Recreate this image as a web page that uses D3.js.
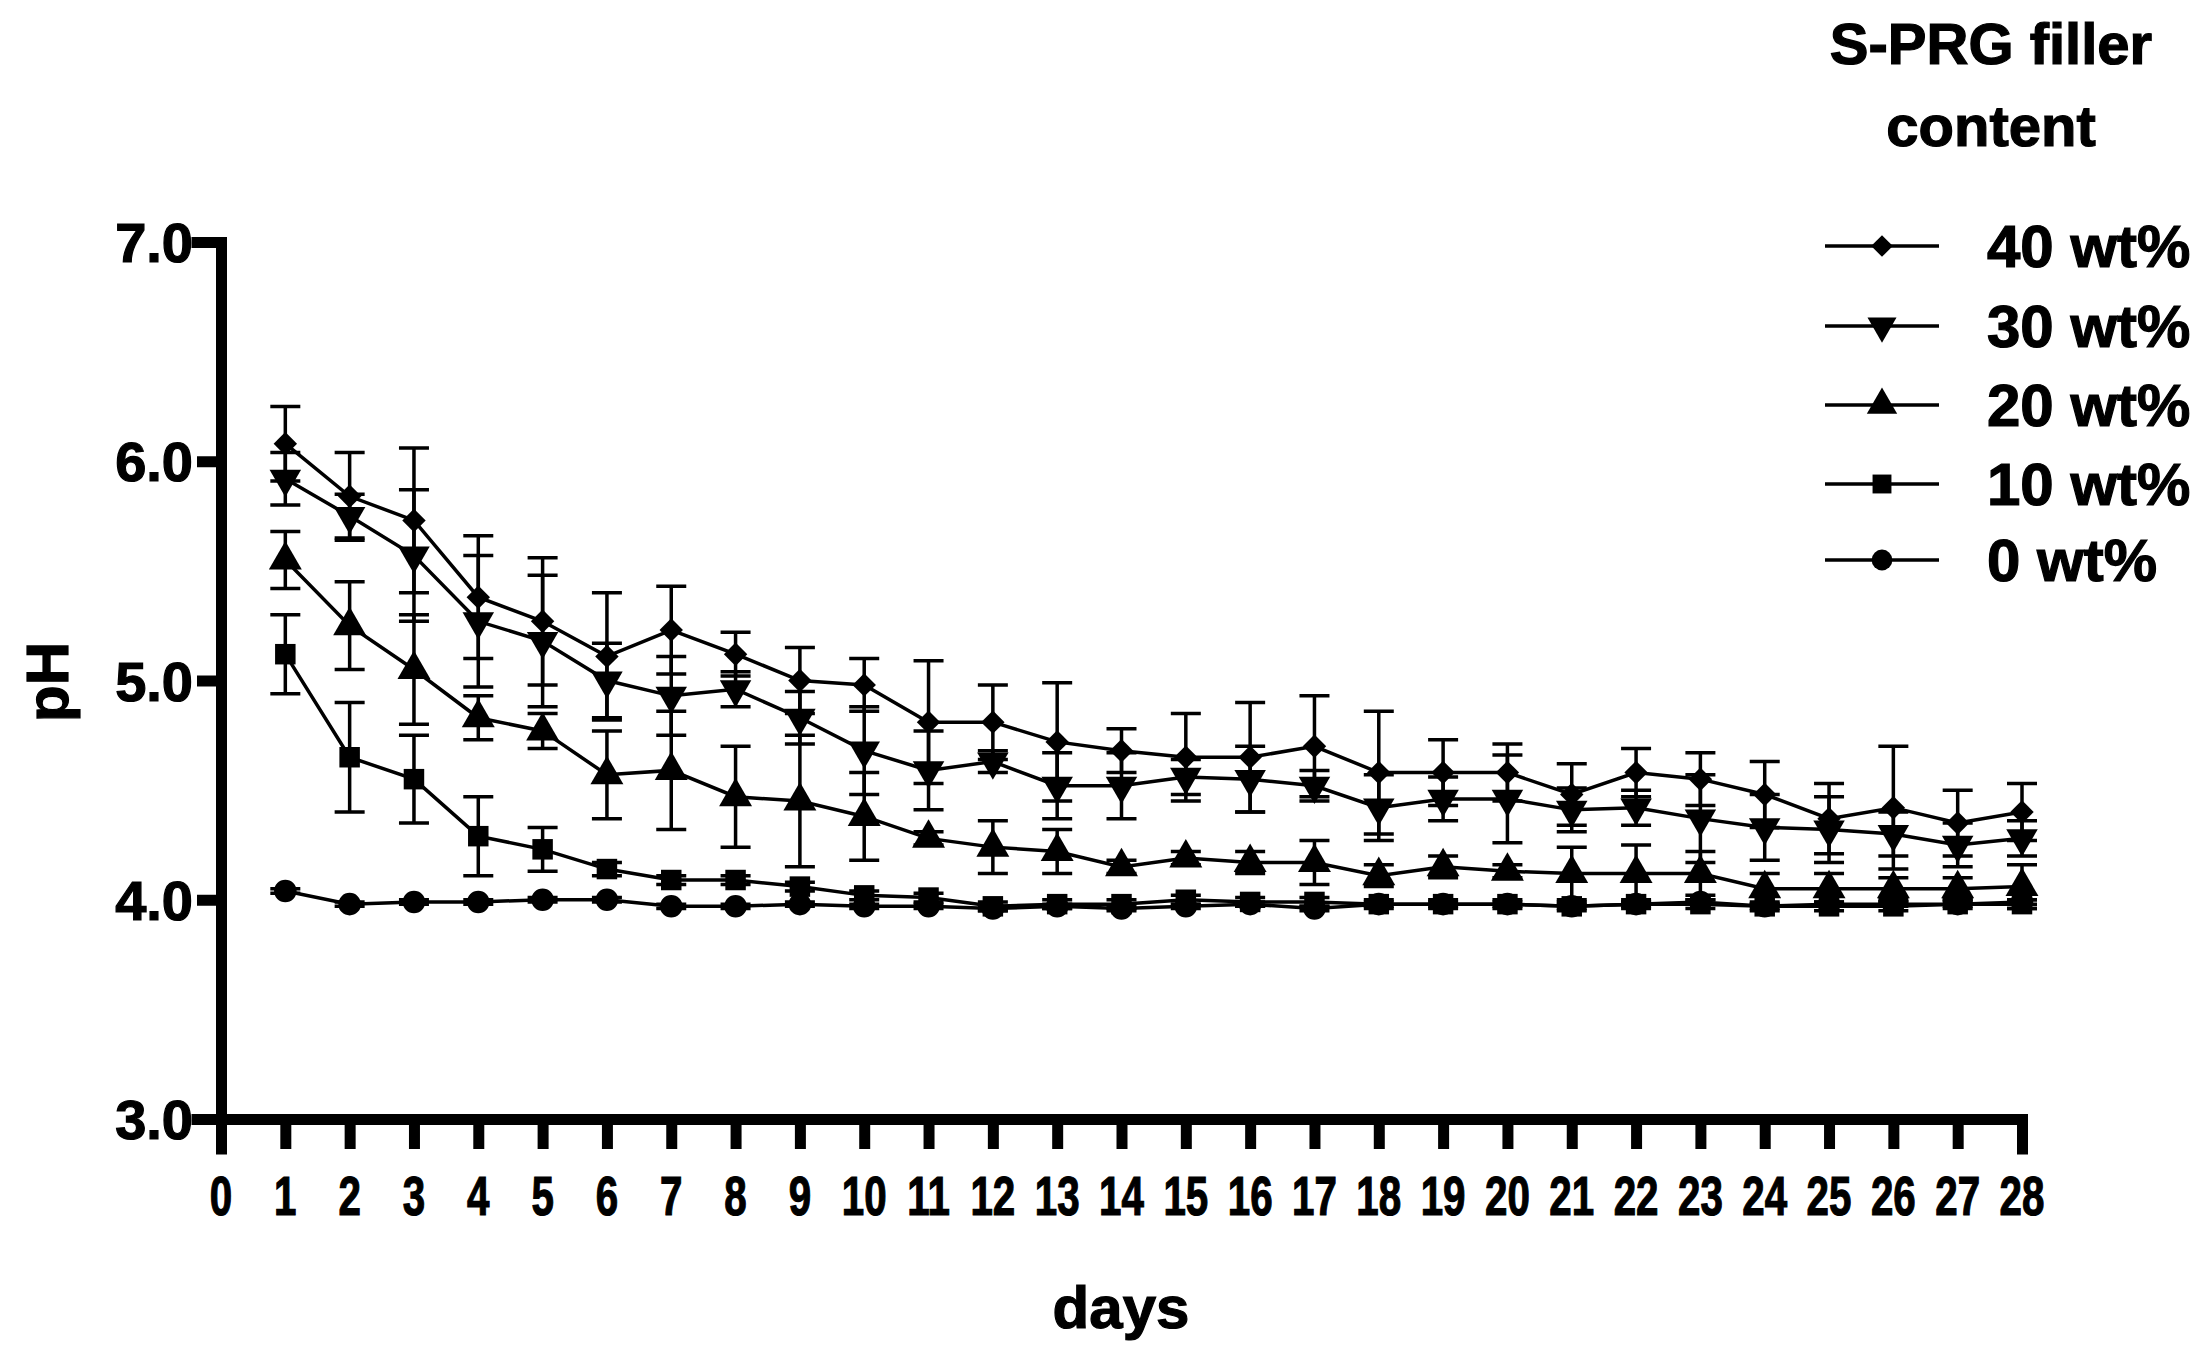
<!DOCTYPE html>
<html><head><meta charset="utf-8">
<script src="https://cdn.jsdelivr.net/npm/d3@7"></script>
<style>body{margin:0;background:#fff}text{font-family:"Liberation Sans",Arial,sans-serif;font-weight:bold;fill:#000;stroke:#000;stroke-width:1.2px}</style>
</head><body><svg id="c" width="2201" height="1345"></svg>
<script>
var days = d3.range(1, 29);
var seriesNames = ["40 wt%", "30 wt%", "20 wt%", "10 wt%", "0 wt%"];
var symbols = [d3.symbolSquare, d3.symbolTriangle, d3.symbolTriangle, d3.symbolSquare, d3.symbolCircle];
var ph40 = [6.08,5.84,5.73,5.38,5.27,5.11,5.23,5.12,5.0,4.98,4.81,4.81,4.72,4.68,4.65,4.65,4.70,4.58,4.58,4.58,4.48,4.58,4.55,4.48,4.37,4.42,4.35,4.40];
var err40 = [0.17,0.2,0.33,0.28,0.29,0.29,0.2,0.1,0.15,0.12,0.28,0.17,0.27,0.1,0.2,0.25,0.23,0.28,0.15,0.13,0.14,0.11,0.12,0.15,0.16,0.28,0.15,0.13];
var ph30 = [5.92,5.75,5.57,5.27,5.18,5.0,4.93,4.96,4.83,4.68,4.59,4.63,4.52,4.52,4.56,4.55,4.52,4.42,4.46,4.46,4.41,4.42,4.37,4.33,4.32,4.3,4.25,4.28];
var err30 = [0.12,0.1,0.3,0.3,0.3,0.17,0.18,0.08,0.12,0.2,0.18,0.05,0.15,0.15,0.08,0.15,0.07,0.15,0.1,0.2,0.1,0.08,0.2,0.15,0.15,0.1,0.1,0.08];
var ph20 = [5.55,5.25,5.05,4.83,4.77,4.57,4.59,4.47,4.45,4.38,4.28,4.24,4.22,4.15,4.19,4.17,4.17,4.11,4.15,4.13,4.12,4.12,4.12,4.05,4.05,4.05,4.05,4.06];
var err20 = [0.13,0.2,0.25,0.1,0.08,0.2,0.27,0.23,0.3,0.2,0.03,0.12,0.1,0.03,0.03,0.05,0.1,0.05,0.05,0.03,0.12,0.13,0.1,0.07,0.07,0.05,0.05,0.1];
var ph10 = [5.12,4.65,4.55,4.29,4.23,4.14,4.09,4.09,4.06,4.02,4.01,3.97,3.98,3.98,4.0,3.99,3.99,3.98,3.98,3.98,3.97,3.98,3.98,3.97,3.97,3.97,3.98,3.98];
var err10 = [0.18,0.25,0.2,0.18,0.1,0.03,0.02,0.02,0.02,0.02,0.02,0.02,0.02,0.02,0.02,0.02,0.02,0.02,0.02,0.02,0.02,0.02,0.02,0.02,0.02,0.02,0.02,0.02];
var ph0 = [4.04,3.98,3.99,3.99,4.0,4.0,3.97,3.97,3.98,3.97,3.97,3.96,3.97,3.96,3.97,3.98,3.96,3.98,3.98,3.98,3.97,3.98,3.99,3.97,3.98,3.98,3.98,3.99];
var err0 = [0.01,0.01,0.01,0.01,0.01,0.01,0.01,0.01,0.01,0.01,0.01,0.01,0.01,0.01,0.01,0.01,0.01,0.01,0.01,0.01,0.01,0.01,0.01,0.01,0.01,0.01,0.01,0.01];
var values = [ph40, ph30, ph20, ph10, ph0];
var errors = [err40, err30, err20, err10, err0];
var yTicks = [3, 4, 5, 6, 7];

var svg = d3.select("#c");
var x = d3.scaleLinear().domain([0, 28]).range([221, 2022]);
var y = d3.scaleLinear().domain([3, 7]).range([1119, 242]);

function markerTransform(s, cx, cy) {
    var t = "translate(" + cx + "," + cy + ")";
    if (s === 0) t += " rotate(45) scale(0.85)";
    if (s === 1) t += " rotate(180)";
    return t;
}
var symSize = [380, 430, 470, 420, 400];

// axes
var xa = svg.append("g").attr("transform", "translate(0,1119)")
    .call(d3.axisBottom(x).tickValues(d3.range(0, 29)).tickSize(30).tickFormat(""));
var ya = svg.append("g").attr("transform", "translate(221,0)")
    .call(d3.axisLeft(y).tickValues(yTicks).tickSize(24).tickFormat(""));
[xa, ya].forEach(function (a) {
    a.select(".domain").attr("stroke-width", 11).attr("stroke-linecap", "square");
    a.selectAll(".tick line").attr("stroke-width", 11);
});
d3.range(0, 29).forEach(function (d) {
    svg.append("text").attr("transform", "translate(" + x(d) + ",1215) scale(0.72,1)")
        .attr("text-anchor", "middle").style("font-size", "56px").text(d);
});
yTicks.forEach(function (d) {
    svg.append("text").attr("x", 193).attr("y", y(d) + 20).attr("text-anchor", "end")
        .style("font-size", "56px").text(d.toFixed(1));
});
svg.append("text").attr("x", 1121).attr("y", 1328).attr("text-anchor", "middle").style("font-size", "60px").text("days");
svg.append("text").attr("transform", "translate(68,682) rotate(-90)").attr("text-anchor", "middle").style("font-size", "60px").text("pH");

// series
values.forEach(function (vals, s) {
    var g = svg.append("g");
    vals.forEach(function (v, i) {
        var e = errors[s][i], cx = x(days[i]);
        g.append("path").attr("d", "M" + cx + "," + y(v - e) + "V" + y(v + e) +
            "M" + (cx - 15) + "," + y(v + e) + "H" + (cx + 15) + "M" + (cx - 15) + "," + y(v - e) + "H" + (cx + 15))
            .attr("stroke", "#000").attr("stroke-width", 3.5).attr("fill", "none");
    });
    g.append("path").datum(vals)
        .attr("d", d3.line().x(function (d, i) { return x(days[i]); }).y(function (d) { return y(d); }))
        .attr("fill", "none").attr("stroke", "#000").attr("stroke-width", 3.5);
    var sym = d3.symbol().type(symbols[s]).size(symSize[s]);
    vals.forEach(function (v, i) {
        g.append("path").attr("d", sym()).attr("fill", "#000")
            .attr("transform", markerTransform(s, x(days[i]), y(v)));
    });
});

// legend
svg.append("text").attr("x", 1991).attr("y", 64).attr("text-anchor", "middle").style("font-size", "58px").text("S-PRG filler");
svg.append("text").attr("x", 1991).attr("y", 146).attr("text-anchor", "middle").style("font-size", "58px").text("content");
var ly = [246, 326, 405, 484, 560];
seriesNames.forEach(function (n, s) {
    svg.append("line").attr("x1", 1825).attr("x2", 1939).attr("y1", ly[s]).attr("y2", ly[s]).attr("stroke", "#000").attr("stroke-width", 3.5);
    svg.append("path").attr("d", d3.symbol().type(symbols[s]).size(symSize[s] * 0.85)()).attr("fill", "#000")
        .attr("transform", markerTransform(s, 1882, ly[s]));
    svg.append("text").attr("x", 1987).attr("y", ly[s] + 21).style("font-size", "60px").text(n);
});
</script></body></html>
